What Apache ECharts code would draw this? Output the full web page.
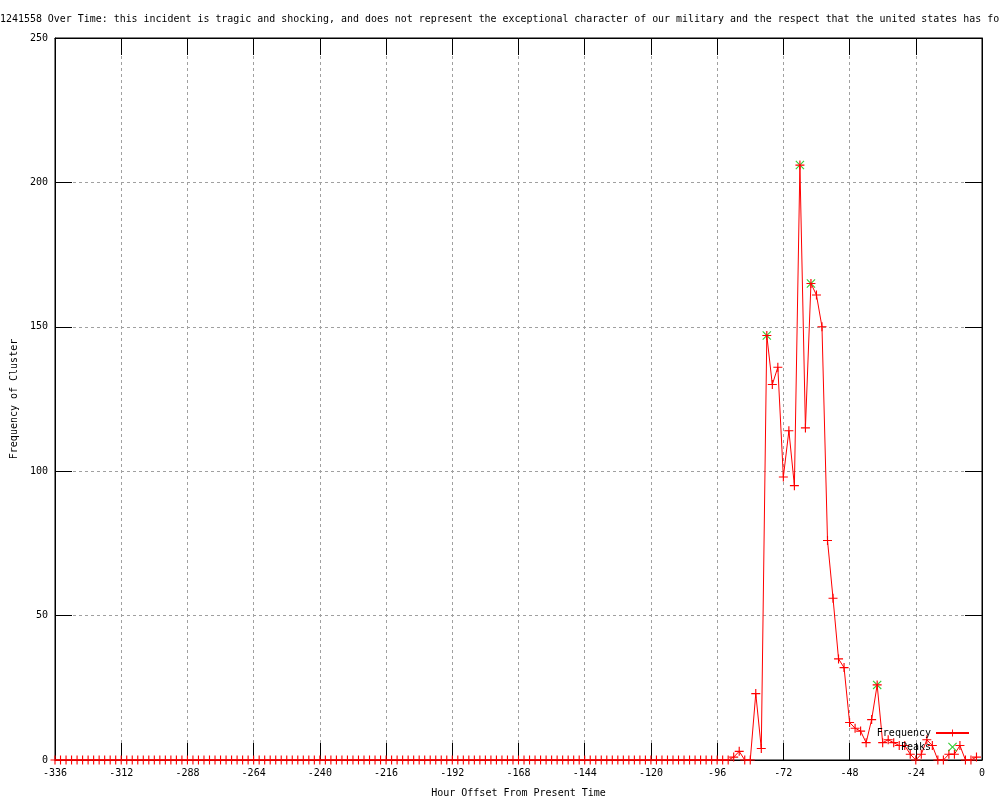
<!DOCTYPE html>
<html>
<head>
<meta charset="utf-8">
<script src="https://cdn.jsdelivr.net/npm/echarts@6/dist/echarts.min.js"></script>
<style>
html,body{margin:0;padding:0;background:#fff;}
#chart{width:1000px;height:800px;}
</style>
</head>
<body>
<div id="chart"></div>
<script>
var titleText = "1241558 Over Time: this incident is tragic and shocking, and does not represent the exceptional character of our military and the respect that the united states has fo";

var hours = [
-336,-334,-332,-330,-328,-326,-324,-322,-320,-318,-316,-314,-312,-310,-308,-306,-304,-302,-300,-298,-296,-294,-292,-290,
-288,-286,-284,-282,-280,-278,-276,-274,-272,-270,-268,-266,-264,-262,-260,-258,-256,-254,-252,-250,-248,-246,-244,-242,
-240,-238,-236,-234,-232,-230,-228,-226,-224,-222,-220,-218,-216,-214,-212,-210,-208,-206,-204,-202,-200,-198,-196,-194,
-192,-190,-188,-186,-184,-182,-180,-178,-176,-174,-172,-170,-168,-166,-164,-162,-160,-158,-156,-154,-152,-150,-148,-146,
-144,-142,-140,-138,-136,-134,-132,-130,-128,-126,-124,-122,-120,-118,-116,-114,-112,-110,-108,-106,-104,-102,-100,-98,
-96,-94,-92,-90,-88,-86,-84,-82,-80,-78,-76,-74,-72,-70,-68,-66,-64,-62,-60,-58,-56,-54,-52,-50,
-48,-46,-44,-42,-40,-38,-36,-34,-32,-30,-28,-26,-24,-22,-20,-18,-16,-14,-12,-10,-8,-6,-4,-2
];

var frequency = [
0,0,0,0,0,0,0,0,0,0,0,0,0,0,0,0,0,0,0,0,0,0,0,0,
0,0,0,0,0,0,0,0,0,0,0,0,0,0,0,0,0,0,0,0,0,0,0,0,
0,0,0,0,0,0,0,0,0,0,0,0,0,0,0,0,0,0,0,0,0,0,0,0,
0,0,0,0,0,0,0,0,0,0,0,0,0,0,0,0,0,0,0,0,0,0,0,0,
0,0,0,0,0,0,0,0,0,0,0,0,0,0,0,0,0,0,0,0,0,0,0,0,
0,0,0,1,3,0,0,23,4,147,130,136,98,114,95,206,115,165,161,150,76,56,35,32,
13,11,10,6,14,26,6,7,6,5,5,2,0,2,7,5,0,0,2,2,5,0,0,1
];

var peakHours = [-78, -66, -62, -38];
var peakValues = [147, 206, 165, 26];

var xTicks = { min: -336, max: 0, interval: 24 };
var yTicks = { min: 0, max: 250, interval: 50 };

var freqData = hours.map(function (h, i) { return [h, frequency[i]]; });
var peakData = peakHours.map(function (h, i) { return [h, peakValues[i]]; });

var plusPath = 'path://M0,3.5H3.5V0H4.5V3.5H8V4.5H4.5V8H3.5V4.5H0Z';
var crossPath = 'path://M0,0.7L0.7,0L4,3.3L7.3,0L8,0.7L4.7,4L8,7.3L7.3,8L4,4.7L0.7,8L0,7.3L3.3,4Z';

var FONT = 'DejaVu Sans Mono';
var txt = { fontFamily: FONT, fontSize: 10, color: '#000' };
var gridLine = { show: true, lineStyle: { color: '#a0a0a0', width: 1, type: [3, 3] } };
var axisLine = { show: true, onZero: false, lineStyle: { color: '#000', width: 1 } };
var tick = { show: true, inside: true, length: 17, lineStyle: { color: '#000', width: 1 } };

var chart = echarts.init(document.getElementById('chart'), null, { renderer: 'canvas' });
chart.setOption({
  backgroundColor: '#fff',
  animation: false,
  title: {
    text: titleText,
    left: 0, top: 14, padding: 0,
    textStyle: { fontFamily: FONT, fontSize: 9.95, fontWeight: 'normal', color: '#000' }
  },
  grid: { left: 55, right: 18, top: 38, bottom: 40, outerBoundsMode: 'none', containLabel: false,
          show: true, borderColor: '#000', borderWidth: 1, backgroundColor: 'transparent' },
  legend: {
    orient: 'vertical', right: 30, bottom: 48, align: 'right', padding: 0,
    itemWidth: 33, itemHeight: 9, itemGap: 4,
    textStyle: txt,
    data: [{ name: 'Frequency' }, { name: 'Peaks', icon: crossPath }]
  },
  xAxis: [{
    type: 'value', position: 'bottom',
    min: xTicks.min, max: xTicks.max, interval: xTicks.interval,
    name: 'Hour Offset From Present Time', nameLocation: 'middle', nameGap: 28,
    nameTextStyle: txt,
    axisLine: axisLine, axisTick: tick, splitLine: gridLine,
    axisLabel: { margin: 8, fontFamily: FONT, fontSize: 10, color: '#000' }
  }, {
    type: 'value', position: 'top',
    min: xTicks.min, max: xTicks.max, interval: xTicks.interval,
    axisLine: axisLine, axisTick: tick, splitLine: { show: false }, axisLabel: { show: false }
  }],
  yAxis: [{
    type: 'value', position: 'left',
    min: yTicks.min, max: yTicks.max, interval: yTicks.interval,
    name: 'Frequency of Cluster', nameLocation: 'middle', nameGap: 36,
    nameTextStyle: txt,
    axisLine: axisLine, axisTick: tick, splitLine: gridLine,
    axisLabel: { margin: 7, fontFamily: FONT, fontSize: 10, color: '#000' }
  }, {
    type: 'value', position: 'right',
    min: yTicks.min, max: yTicks.max, interval: yTicks.interval,
    axisLine: axisLine, axisTick: tick, splitLine: { show: false }, axisLabel: { show: false }
  }],
  series: [{
    name: 'Peaks', type: 'scatter', xAxisIndex: 0, yAxisIndex: 0,
    data: peakData, symbol: crossPath, symbolSize: 9, z: 1,
    itemStyle: { color: '#00c000' }
  }, {
    name: 'Frequency', type: 'line', xAxisIndex: 0, yAxisIndex: 0,
    data: freqData, symbol: plusPath, symbolSize: 9, showSymbol: true, showAllSymbol: true,
    clip: false, z: 2,
    lineStyle: { color: '#ff0000', width: 1 },
    itemStyle: { color: '#ff0000' }
  }]
});
</script>
</body>
</html>
